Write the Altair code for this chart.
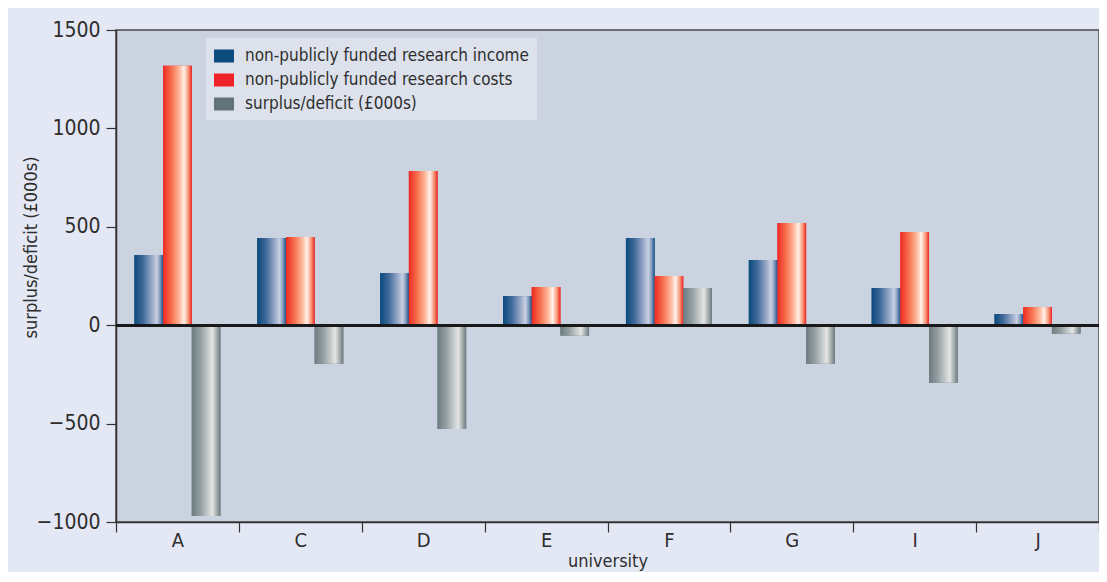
import altair as alt
import pandas as pd

universities = ["A", "C", "D", "E", "F", "G", "I", "J"]
series = [
    "non-publicly funded research income",
    "non-publicly funded research costs",
    "surplus/deficit (£000s)",
]
income = [357, 443, 265, 148, 443, 331, 189, 57]
costs = [1318, 448, 783, 194, 250, 519, 473, 92]
surplus = [-969, -196, -527, -53, 189, -196, -292, -43]
y_ticks = [-1000, -500, 0, 500, 1000, 1500]

rows = []
for i, u in enumerate(universities):
    rows.append({"university": u, "series": series[0], "value": income[i]})
    rows.append({"university": u, "series": series[1], "value": costs[i]})
    rows.append({"university": u, "series": series[2], "value": surplus[i]})
df = pd.DataFrame(rows)

FONT = "Liberation Sans Narrow, DejaVu Sans Condensed, Roboto Condensed, Liberation Sans, sans-serif"
TXT = "#2e2e2e"

solid = ["#0a4a7c", "#ee2228", "#627478"]


def grad(stops):
    return alt.LinearGradient(
        gradient="linear",
        x1=0, x2=1, y1=0, y2=0,
        stops=[alt.GradientStop(offset=o, color=c) for o, c in stops],
    )


gradients = [
    grad([(0, "#0a4a7c"), (0.3, "#40699a"), (0.62, "#9aabc9"), (0.78, "#c9d1e3"),
          (0.9, "#7d96ba"), (1, "#17538a")]),
    grad([(0, "#ee2a22"), (0.3, "#f7714e"), (0.58, "#ffbba0"), (0.73, "#fff2ea"),
          (0.88, "#f89878"), (1, "#ec2422")]),
    grad([(0, "#6c7c81"), (0.3, "#939ea1"), (0.58, "#c9cece"), (0.72, "#e4e6e4"),
          (0.86, "#a8b0b1"), (1, "#6c7c81")]),
]

PLOT_W = 983
PLOT_H = 492

x_enc = alt.X(
    "university:N",
    sort=universities,
    scale=alt.Scale(paddingInner=0, paddingOuter=0),
    axis=alt.Axis(
        title="university",
        labelAngle=0,
        tickBand="extent",
        tickSize=10,
        tickColor="#333333",
        tickWidth=1.2,
        domainColor="#333333",
        domainWidth=1.5,
        labelFont=FONT,
        labelFontSize=20,
        labelColor=TXT,
        labelPadding=-2,
        titleFont=FONT,
        titleFontSize=18,
        titleFontWeight="normal",
        titleColor=TXT,
        titleX=PLOT_W / 2,
        titleY=39,
        titleBaseline="middle",
    ),
)
xo_enc = alt.XOffset(
    "series:N", sort=series,
    scale=alt.Scale(domain=series, paddingInner=0, paddingOuter=0.643),
)
y_enc = alt.Y(
    "value:Q",
    scale=alt.Scale(domain=[-1000, 1500], nice=False, zero=True),
    axis=alt.Axis(
        title="surplus/deficit (£000s)",
        values=y_ticks,
        format="d",
        grid=False,
        tickSize=10,
        tickColor="#333333",
        tickWidth=1.2,
        domainColor="#333333",
        domainWidth=1.5,
        labelFont=FONT,
        labelFontSize=21,
        labelColor=TXT,
        labelPadding=6,
        titleFont=FONT,
        titleFontSize=18,
        titleFontWeight="normal",
        titleColor=TXT,
        titleX=-85,
        titleY=217,
        titleBaseline="middle",
        titleAngle=-90,
    ),
)

base = alt.Chart(df).encode(x=x_enc, xOffset=xo_enc, y=y_enc)

legend_bars = base.mark_bar().encode(
    color=alt.Color(
        "series:N",
        sort=series,
        scale=alt.Scale(domain=series, range=solid),
        legend=alt.Legend(
            title=None,
            orient="none",
            legendX=90,
            legendY=8,
            fillColor="#dce1eb",
            padding=8,
            labelFont=FONT,
            labelFontSize=17,
            labelColor=TXT,
            labelLimit=500,
            labelOffset=11,
            rowPadding=6,
            symbolType="M-1,-0.65H1V0.65H-1Z",
            symbolSize=400,
            symbolStrokeWidth=0,
            symbolOpacity=1,
        ),
    )
)

layers = [legend_bars]
for s, g in zip(series, gradients):
    layers.append(
        base.transform_filter(alt.datum.series == s).mark_bar(color=g)
    )

zero = alt.Chart(df).mark_rule(color="#1a1a1a", strokeWidth=2).encode(y=alt.datum(0))
layers.append(zero)

chart = (
    alt.layer(*layers)
    .properties(
        width=PLOT_W,
        height=PLOT_H,
        background="#e4e8f4",
        autosize=alt.AutoSizeParams(type="none"),
        padding={"left": 108, "top": 22, "right": 0, "bottom": 50},
    )
    .configure_view(fill="#cbd2e0", stroke="#4a4a4a", strokeWidth=1.5)
)

chart.save("out.html", embed_options={"renderer": "svg", "actions": False})
